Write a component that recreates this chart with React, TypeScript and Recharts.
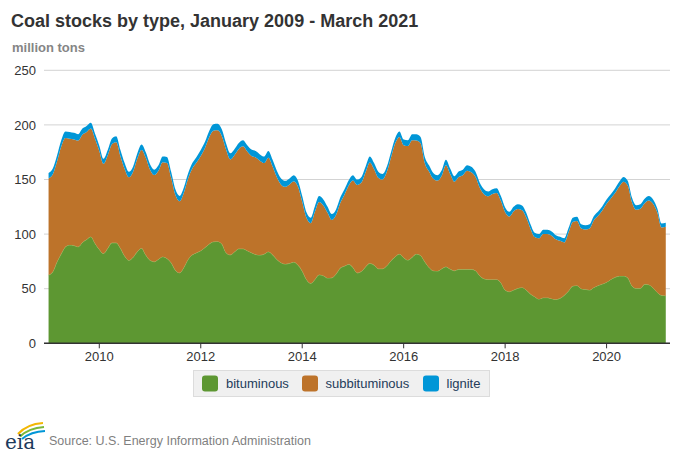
import React from "react";
import { AreaChart, Area, XAxis, YAxis, CartesianGrid } from "recharts";

const START_YEAR = 2009;

const bituminous = [
  62.5, 65.5, 74.7, 82.0, 88.4, 90.0, 89.6, 88.4, 92.4, 95.0, 97.6, 91.5,
  86.0, 82.3, 87.0, 92.0, 92.0, 87.0, 80.0, 76.0, 78.7, 84.0, 87.0, 80.8,
  76.0, 74.7, 77.0, 79.3, 77.7, 73.8, 67.0, 64.6, 69.5, 76.8, 81.0, 83.0,
  84.8, 87.8, 90.9, 93.0, 93.3, 90.9, 83.0, 81.0, 83.8, 86.6, 86.6, 84.8,
  83.0, 81.4, 80.8, 81.7, 83.8, 81.0, 76.8, 73.8, 72.6, 73.2, 74.4, 71.6,
  66.2, 58.5, 54.9, 58.5, 62.8, 61.9, 59.8, 60.0, 63.4, 68.9, 70.7, 72.3,
  69.5, 64.5, 65.9, 70.1, 73.2, 71.6, 68.3, 68.3, 71.0, 75.6, 79.3, 81.7,
  78.4, 76.2, 78.7, 81.7, 80.5, 74.7, 69.5, 66.5, 66.2, 68.3, 70.1, 68.0,
  66.5, 67.7, 67.7, 67.7, 67.7, 66.5, 61.9, 59.1, 58.5, 58.5, 58.5, 55.5,
  48.8, 47.3, 48.8, 50.3, 51.2, 48.8, 45.1, 42.7, 40.5, 41.8, 41.8, 40.9,
  40.2, 41.2, 44.0, 48.0, 52.4, 53.0, 50.0, 49.4, 48.8, 51.2, 53.0, 54.3,
  56.0, 58.5, 60.4, 61.6, 61.6, 60.0, 52.7, 50.3, 50.3, 54.0, 53.7, 50.6,
  46.6, 43.9, 43.6,
];

const subbituminous = [
  88.5, 89.3, 91.8, 98.2, 99.6, 97.4, 97.1, 97.3, 98.6, 98.5, 99.1, 95.5,
  90.2, 82.1, 85.2, 90.3, 92.1, 84.4, 79.6, 76.0, 78.5, 85.2, 90.1, 89.2,
  83.0, 79.4, 81.0, 86.4, 87.5, 77.7, 68.8, 65.5, 68.4, 73.9, 79.0, 82.5,
  86.8, 91.1, 97.8, 101.6, 101.7, 98.8, 94.2, 87.4, 88.7, 91.4, 93.8, 90.9,
  88.6, 88.8, 86.4, 83.3, 86.2, 81.0, 75.3, 71.5, 70.7, 72.3, 74.1, 71.8,
  63.4, 56.5, 55.1, 61.9, 66.6, 64.3, 59.7, 52.9, 54.0, 59.6, 65.3, 72.1,
  79.5, 80.5, 81.3, 86.5, 92.3, 87.9, 83.4, 81.7, 85.8, 94.6, 103.9, 107.3,
  103.0, 104.4, 107.2, 104.0, 102.7, 90.2, 87.9, 84.2, 82.8, 85.2, 92.9, 87.0,
  81.5, 84.6, 86.3, 90.3, 88.9, 85.7, 80.5, 77.5, 76.2, 78.2, 79.2, 75.0,
  71.3, 68.9, 72.0, 72.8, 70.7, 66.5, 59.9, 54.6, 55.7, 58.4, 58.4, 57.7,
  55.0, 52.6, 48.4, 53.5, 58.6, 59.0, 55.1, 54.8, 56.4, 61.4, 63.7, 67.3,
  71.7, 74.0, 77.2, 82.0, 86.4, 84.4, 76.5, 72.0, 73.0, 74.3, 77.1, 77.2,
  73.1, 62.2, 63.1,
];

const lignite = [
  5.0, 5.2, 5.5, 5.8, 6.0, 6.2, 6.0, 5.8, 5.6, 5.5, 5.3, 5.0,
  4.8, 4.6, 4.8, 5.2, 5.5, 5.6, 5.4, 5.0, 4.8, 4.8, 4.9, 5.0,
  5.0, 4.9, 5.0, 5.3, 5.5, 5.5, 5.2, 4.9, 4.8, 4.8, 5.0, 5.2,
  5.4, 5.6, 5.8, 6.0, 6.0, 6.0, 5.8, 5.6, 5.5, 5.5, 5.6, 5.7,
  5.8, 5.8, 5.8, 6.0, 6.0, 6.0, 5.9, 5.7, 5.5, 5.5, 5.5, 5.4,
  5.2, 5.0, 5.0, 5.2, 5.4, 5.5, 5.5, 5.4, 5.2, 5.0, 5.0, 5.0,
  5.0, 5.0, 5.2, 5.4, 5.5, 5.5, 5.3, 5.0, 4.8, 4.8, 4.8, 5.0,
  5.2, 5.4, 5.6, 5.8, 5.8, 5.8, 5.6, 5.3, 5.0, 5.0, 5.0, 5.0,
  5.0, 5.0, 5.0, 5.0, 5.0, 4.8, 4.6, 4.4, 4.3, 4.3, 4.3, 4.3,
  4.3, 4.2, 4.2, 4.3, 4.3, 4.2, 4.0, 3.9, 3.8, 3.8, 3.8, 3.8,
  3.8, 3.8, 3.9, 4.0, 4.0, 4.0, 3.9, 3.8, 3.8, 3.9, 4.0, 4.0,
  4.0, 4.1, 4.2, 4.3, 4.4, 4.4, 4.3, 4.2, 4.1, 4.0, 4.0, 3.9,
  3.8, 3.7, 3.7,
];

const xTicks = [2010, 2012, 2014, 2016, 2018, 2020];
const yTicks = [0, 50, 100, 150, 200, 250];

const seriesNames = ["bituminous", "subbituminous", "lignite"];
const seriesColors = ["#5D9732", "#BD732A", "#0096D7"];

const rows = bituminous.map((b, i) => ({
  t: START_YEAR + i / 12,
  bituminous: b,
  subbituminous: subbituminous[i],
  lignite: lignite[i],
}));

const FONT = '"Liberation Sans", Arial, Helvetica, sans-serif';

export default function App() {
  return (
    <div style={{ position: "fixed", left: 0, top: 0, width: 683, height: 455, background: "#fff", fontFamily: FONT }}>
      <AreaChart
        width={683}
        height={455}
        data={rows}
        margin={{ top: 70.3, right: 13, bottom: 81.7, left: 0 }}
      >
        <CartesianGrid vertical={false} stroke="#d3d3d3" strokeWidth={1} />
        <XAxis
          dataKey="t"
          type="number"
          domain={[2008.91, 2021.25]}
          ticks={xTicks}
          interval={0}
          tickFormatter={(v) => String(v)}
          axisLine={{ stroke: "#333", strokeWidth: 1.5 }}
          tickLine={{ stroke: "#333" }}
          tickSize={5}
          tickMargin={3}
          height={30}
          tick={{ fontSize: 13, fill: "#333", fontFamily: FONT }}
        />
        <YAxis
          type="number"
          domain={[0, 250]}
          ticks={yTicks}
          interval={0}
          axisLine={false}
          tickLine={false}
          width={44}
          tick={{ fontSize: 13, fill: "#333", fontFamily: FONT }}
        />
        <Area
          type="monotone"
          dataKey="bituminous"
          stackId="1"
          fill={seriesColors[0]}
          fillOpacity={1}
          stroke="#9cc46a"
          strokeWidth={0.8}
          isAnimationActive={false}
          dot={false}
          activeDot={false}
        />
        <Area
          type="monotone"
          dataKey="subbituminous"
          stackId="1"
          fill={seriesColors[1]}
          fillOpacity={1}
          stroke="none"
          isAnimationActive={false}
          dot={false}
          activeDot={false}
        />
        <Area
          type="monotone"
          dataKey="lignite"
          stackId="1"
          fill={seriesColors[2]}
          fillOpacity={1}
          stroke="none"
          isAnimationActive={false}
          dot={false}
          activeDot={false}
        />
      </AreaChart>

      <svg width={683} height={455} style={{ position: "absolute", left: 0, top: 0, pointerEvents: "none" }}>
        <text x={11} y={26.5} fontSize={18} fontWeight="bold" fill="#333" fontFamily={FONT}>
          Coal stocks by type, January 2009 - March 2021
        </text>
        <text x={12} y={52} fontSize={13} fontWeight="bold" fill="#858585" fontFamily={FONT}>
          million tons
        </text>

        <rect x={193.5} y={370.5} width={296} height={26} fill="#f0f0f0" stroke="#dcdcdc" strokeWidth={1} />
        {seriesNames.map((name, k) => {
          const sx = [202, 302, 423][k];
          const tx = [226, 325.5, 446.5][k];
          return (
            <g key={name}>
              <rect x={sx} y={375.5} width={16} height={16} rx={3} fill={seriesColors[k]} />
              <text x={tx} y={388} fontSize={13} fill="#243c5a" fontFamily={FONT}>
                {name}
              </text>
            </g>
          );
        })}

        <path d="M18 434 Q27 424 43 423" stroke="#F2B705" strokeWidth={2.2} fill="none" />
        <path d="M20 436.5 Q29 428 44 427" stroke="#7AB83C" strokeWidth={2.2} fill="none" />
        <path d="M22 439 Q31 431.5 45 431" stroke="#0096D7" strokeWidth={2.2} fill="none" />
        <text x={5} y={449} fontSize={20} fill="#1d3a5c" fontFamily='"DejaVu Serif", "Liberation Serif", serif'>
          eia
        </text>
        <text x={49} y={445} fontSize={12.5} fill="#7f7f7f" fontFamily={FONT}>
          Source: U.S. Energy Information Administration
        </text>
      </svg>
    </div>
  );
}
